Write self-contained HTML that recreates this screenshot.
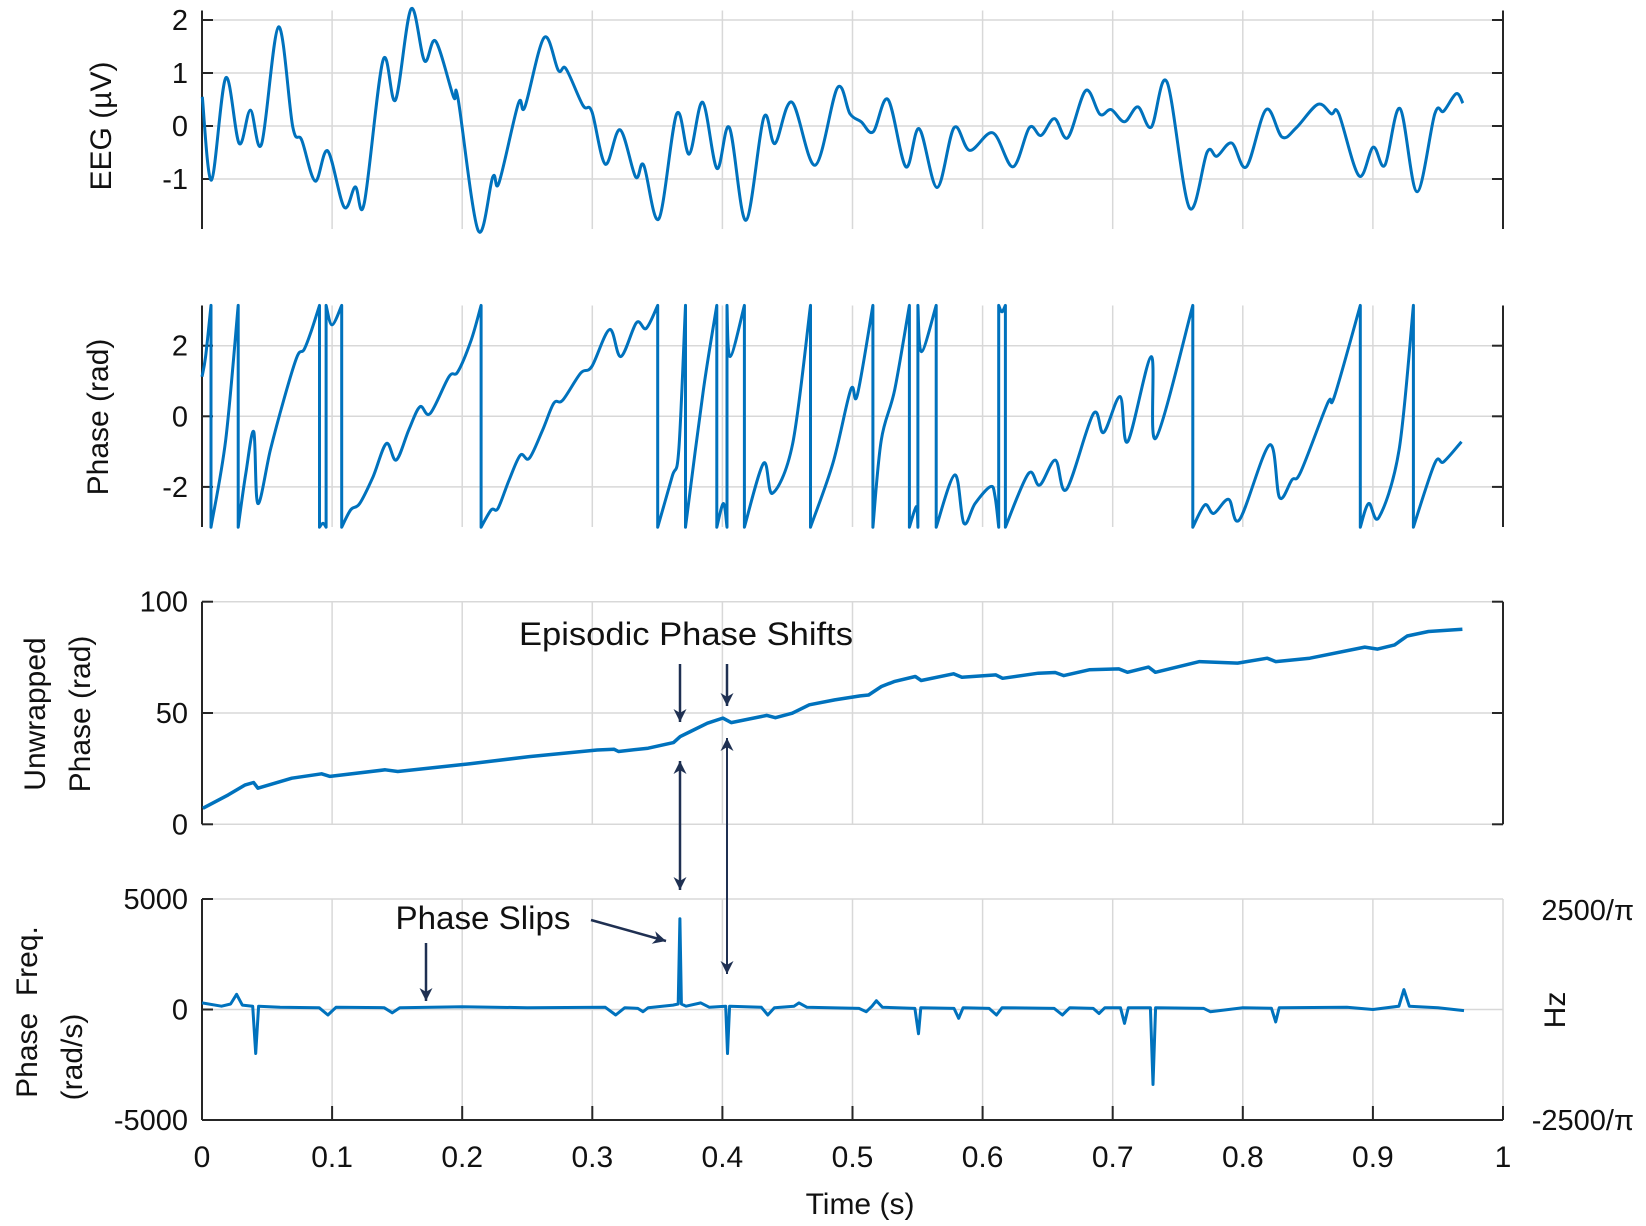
<!DOCTYPE html>
<html><head><meta charset="utf-8"><style>
html,body{margin:0;padding:0;background:#fff;}
svg{display:block;}
text{font-family:"Liberation Sans",sans-serif;fill:#111;}
</style></head><body>
<svg id="chart" width="1646" height="1226" viewBox="0 0 1646 1226" xmlns="http://www.w3.org/2000/svg">
<g id="layer"></g>
</svg>
<script>
// ---- data ----
const xTicks = [0,0.1,0.2,0.3,0.4,0.5,0.6,0.7,0.8,0.9,1];
const xTickLabels = ["0","0.1","0.2","0.3","0.4","0.5","0.6","0.7","0.8","0.9","1"];
const eegTicks = [2,1,0,-1];
const phaseTicks = [2,0,-2];
const unwrapTicks = [100,50,0];
const freqTicks = [5000,0,-5000];
const eegT = [0.0002,0.0073,0.0183,0.0286,0.0372,0.0458,0.0588,0.0698,0.0767,0.0870,0.0966,0.1092,0.1178,0.1247,0.1391,0.1487,0.1607,0.1710,0.1796,0.1933,0.1968,0.2122,0.2235,0.2283,0.2431,0.2482,0.2630,0.2739,0.2798,0.2928,0.2997,0.3100,0.3213,0.3333,0.3395,0.3512,0.3649,0.3745,0.3848,0.3958,0.4054,0.4181,0.4318,0.4404,0.4534,0.4713,0.4884,0.4981,0.5067,0.5159,0.5273,0.5410,0.5513,0.5650,0.5781,0.5901,0.6079,0.6233,0.6360,0.6449,0.6552,0.6655,0.6793,0.6902,0.6988,0.7091,0.7194,0.7297,0.7417,0.7589,0.7726,0.7801,0.7915,0.8028,0.8179,0.8302,0.8412,0.8577,0.8680,0.8738,0.8893,0.9002,0.9092,0.9208,0.9338,0.9476,0.9544,0.9640,0.9692];
const eegV = [0.55,-1.02,0.91,-0.33,0.30,-0.34,1.87,-0.02,-0.27,-1.04,-0.47,-1.53,-1.15,-1.46,1.24,0.49,2.21,1.23,1.60,0.55,0.52,-1.97,-0.96,-1.07,0.42,0.36,1.67,1.05,1.08,0.39,0.27,-0.72,-0.07,-0.96,-0.74,-1.75,0.23,-0.53,0.45,-0.80,-0.03,-1.78,0.16,-0.33,0.45,-0.74,0.72,0.23,0.08,-0.11,0.50,-0.77,-0.05,-1.16,-0.03,-0.46,-0.13,-0.77,-0.03,-0.18,0.14,-0.22,0.67,0.22,0.31,0.08,0.36,-0.02,0.83,-1.54,-0.49,-0.57,-0.32,-0.77,0.31,-0.21,-0.03,0.41,0.23,0.23,-0.94,-0.40,-0.74,0.33,-1.24,0.23,0.28,0.61,0.43];
const P = Math.PI;
const phaseT = [0,0.0028,0.0069,0.0069,0.0182,0.0278,0.0278,0.0337,0.0398,0.0429,0.0526,0.0628,0.0731,0.0783,0.0834,0.0903,0.0903,0.0930,0.0954,0.0954,0.0999,0.1074,0.1074,0.1143,0.1212,0.1315,0.1417,0.1493,0.1589,0.1675,0.1754,0.1898,0.1966,0.2069,0.2145,0.2145,0.2224,0.2275,0.2361,0.2447,0.2516,0.2618,0.2704,0.2773,0.2910,0.2996,0.3133,0.3219,0.3339,0.3414,0.3503,0.3503,0.3613,0.3665,0.3716,0.3716,0.3854,0.3957,0.3957,0.4008,0.4035,0.4035,0.4059,0.4169,0.4169,0.4317,0.4385,0.4540,0.4677,0.4677,0.4849,0.4986,0.5037,0.5157,0.5157,0.5221,0.5324,0.5437,0.5437,0.5479,0.5496,0.5503,0.5503,0.5530,0.5643,0.5643,0.5787,0.5856,0.5942,0.6062,0.6096,0.6124,0.6124,0.6148,0.6175,0.6175,0.6353,0.6439,0.6559,0.6645,0.6851,0.6930,0.7057,0.7115,0.7297,0.7331,0.7616,0.7616,0.7709,0.7777,0.7891,0.7976,0.8206,0.8282,0.8378,0.8446,0.8652,0.8704,0.8903,0.8903,0.8968,0.9047,0.9201,0.9311,0.9311,0.9476,0.9544,0.9681];
const phaseV = [1.12,1.69,P,-P,-0.67,P,-P,-1.62,-0.44,-2.47,-0.95,0.46,1.69,1.88,2.35,P,-P,-3.03,-P,P,2.59,P,-P,-2.65,-2.47,-1.71,-0.77,-1.24,-0.39,0.27,0.08,1.12,1.26,2.16,P,-P,-2.65,-2.61,-1.80,-1.10,-1.19,-0.39,0.37,0.46,1.22,1.41,2.46,1.69,2.65,2.49,P,-P,-1.71,-0.95,P,-P,0.75,P,-P,-2.47,-P,P,1.69,P,-P,-1.33,-2.18,-0.77,P,-P,-1.33,0.75,0.60,P,-P,-0.67,0.75,P,-P,-2.65,-2.6,-P,P,1.83,P,-P,-1.66,-3.03,-2.47,-1.99,-2.28,-P,P,2.96,P,-P,-1.62,-1.95,-1.24,-2.07,0.07,-0.46,0.56,-0.72,1.69,-0.62,P,-P,-2.51,-2.75,-2.35,-2.92,-0.81,-2.30,-1.80,-1.57,0.37,0.56,P,-P,-2.47,-2.86,-0.95,P,-P,-1.33,-1.29,-0.72];
const unwrapT = [0.0006,0.0201,0.0332,0.0397,0.0430,0.0690,0.0919,0.0984,0.1408,0.1505,0.2060,0.2516,0.3038,0.3168,0.3201,0.3429,0.3624,0.3676,0.3755,0.3885,0.4003,0.4068,0.4342,0.4407,0.4537,0.4668,0.4863,0.5059,0.5124,0.5222,0.5320,0.5483,0.5528,0.5776,0.5841,0.6102,0.6154,0.6428,0.6558,0.6624,0.6819,0.7047,0.7113,0.7276,0.7328,0.7667,0.7960,0.8188,0.8254,0.8515,0.8938,0.9036,0.9167,0.9264,0.9427,0.9688];
const unwrapV = [7.2,13.2,17.7,18.8,16.2,20.7,22.7,21.5,24.5,23.7,27.2,30.4,33.4,33.7,32.7,34.2,36.7,39.4,41.7,45.4,47.7,45.7,48.9,47.9,49.9,53.7,55.9,57.7,58.1,61.9,64.1,66.4,64.6,67.6,66.1,67.1,65.6,67.9,68.2,66.8,69.4,69.8,68.3,70.6,68.3,73.1,72.4,74.6,73.1,74.6,79.6,78.7,80.6,84.6,86.6,87.6];
const freqT = [0,0.015,0.022,0.0266,0.031,0.039,0.0413,0.0435,0.06,0.09,0.0968,0.103,0.14,0.1463,0.152,0.2,0.25,0.31,0.318,0.325,0.335,0.339,0.343,0.362,0.366,0.3673,0.3685,0.372,0.3834,0.39,0.4025,0.4039,0.4055,0.43,0.4349,0.44,0.455,0.4589,0.465,0.505,0.5106,0.515,0.5184,0.523,0.548,0.5507,0.5525,0.578,0.5816,0.585,0.605,0.6107,0.615,0.655,0.6613,0.667,0.685,0.6895,0.694,0.706,0.7091,0.712,0.729,0.731,0.733,0.77,0.775,0.8,0.822,0.8253,0.828,0.88,0.9,0.92,0.9238,0.928,0.95,0.97];
const freqV = [300,150,250,690,200,150,-1990,150,100,80,-250,100,80,-150,80,120,80,100,-250,80,50,-100,80,200,250,4110,250,150,300,100,150,-1990,150,100,-250,80,150,300,100,50,-100,150,400,100,50,-1100,80,50,-400,80,50,-250,80,50,-250,80,50,-180,80,80,-630,80,80,-3390,80,50,-100,80,60,-560,80,100,0,150,900,150,80,-50];

// ---- geometry ----
const X0=202, X1=1503;
const xs = t => X0 + t*(X1-X0);
const panels = {
  eeg:{top:10.5,bottom:229,y0v:0,y0:126,ppu:53},
  phase:{top:305.5,bottom:527,y0v:0,y0:416.3,ppu:35.3},
  unwrap:{top:601.7,bottom:824.3,y0v:0,y0:824.3,ppu:2.226},
  freq:{top:899,bottom:1120,y0v:0,y0:1009.5,ppu:0.0221}
};
const ys = (p,v) => p.y0 - (v-p.y0v)*p.ppu;
const NS="http://www.w3.org/2000/svg";
const layer=document.getElementById('layer');
function mk(tag,attrs,parent){const e=document.createElementNS(NS,tag);for(const k in attrs)e.setAttribute(k,attrs[k]);(parent||layer).appendChild(e);return e;}

function drawPanel(key,ticks,opts){
  const p=panels[key];
  const g=mk('g',{});
  
  
  xTicks.forEach(t=>{
    const l=mk('line',{x1:xs(t),x2:xs(t),y1:p.top,y2:p.bottom,stroke:'#d8d8d8','stroke-width':1.5},g);
    
    
  });
  ticks.forEach(v=>{
    const y=ys(p,v);
    const l=mk('line',{x1:X0,x2:X1,y1:y,y2:y,stroke:'#d8d8d8','stroke-width':1.5},g);
    
    
    const tk=mk('line',{x1:X0,x2:X0+11,y1:y,y2:y,stroke:'#262626','stroke-width':2},g);
    
    
    if(opts.right){
      const tr=mk('line',{x1:X1-11,x2:X1,y1:y,y2:y,stroke:'#262626','stroke-width':2},g);
      
      
    }
    const tx=mk('text',{x:X0-14,y:y+10,'font-size':29,'text-anchor':'end'},g);
    tx.textContent=String(v);
    
    
  });
  const ax=mk('line',{x1:X0,x2:X0,y1:p.top,y2:p.bottom,stroke:'#262626','stroke-width':2},g);
  
  
  if(opts.right){
    const ar=mk('line',{x1:X1,x2:X1,y1:p.top,y2:p.bottom,stroke:'#262626','stroke-width':2},g);
    
    
  }
  return g;
}
function smoothPts(pts,start){
  let d=(start?'M':'L')+pts[0][0].toFixed(1)+','+pts[0][1].toFixed(1);
  for(let i=0;i<pts.length-1;i++){
    const p0=pts[Math.max(0,i-1)],p1=pts[i],p2=pts[i+1],p3=pts[Math.min(pts.length-1,i+2)];
    const c1=[p1[0]+(p2[0]-p0[0])/6,p1[1]+(p2[1]-p0[1])/6];
    const c2=[p2[0]-(p3[0]-p1[0])/6,p2[1]-(p3[1]-p1[1])/6];
    d+=' C'+c1[0].toFixed(1)+','+c1[1].toFixed(1)+' '+c2[0].toFixed(1)+','+c2[1].toFixed(1)+' '+p2[0].toFixed(1)+','+p2[1].toFixed(1);
  }
  return d;
}
function smoothPath(T,V,p){return smoothPts(T.map((t,i)=>[xs(t),ys(p,V[i])]),true);}
// smooth within segments separated by wrap jumps (equal times)
function segPath(T,V,p){
  let segs=[[]];
  T.forEach((t,i)=>{
    if(i>0 && t===T[i-1]) segs.push([]);
    segs[segs.length-1].push([xs(t),ys(p,V[i])]);
  });
  return segs.map((s,k)=>smoothPts(s,k===0)).join(' ');
}
function linePath(T,V,p){return T.map((t,i)=>(i?'L':'M')+xs(t).toFixed(1)+','+ys(p,V[i]).toFixed(1)).join(' ');}

drawPanel('eeg',eegTicks,{right:true});
drawPanel('phase',phaseTicks,{right:true});
drawPanel('unwrap',unwrapTicks,{right:true});
drawPanel('freq',freqTicks,{right:false});
const pf=panels.freq;
const bx=mk('line',{x1:X0,x2:X1,y1:pf.bottom,y2:pf.bottom,stroke:'#262626','stroke-width':2});


xTicks.forEach((t,i)=>{
  const tk=mk('line',{x1:xs(t),x2:xs(t),y1:pf.bottom-14,y2:pf.bottom,stroke:'#262626','stroke-width':2});
  
  
  const tx=mk('text',{x:xs(t),y:1167,'font-size':30,'text-anchor':'middle'});
  tx.textContent=xTickLabels[i];
  
  
});

const s1=mk('path',{d:smoothPath(eegT,eegV,panels.eeg),fill:'none',stroke:'#0072BD','stroke-width':3,'stroke-linejoin':'round'});


const s2=mk('path',{d:segPath(phaseT,phaseV,panels.phase),fill:'none',stroke:'#0072BD','stroke-width':3,'stroke-linejoin':'round'});


const s3=mk('path',{d:linePath(unwrapT,unwrapV,panels.unwrap),fill:'none',stroke:'#0072BD','stroke-width':3.5,'stroke-linejoin':'round'});


const s4=mk('path',{d:linePath(freqT,freqV,panels.freq),fill:'none',stroke:'#0072BD','stroke-width':3,'stroke-linejoin':'round'});


</script>
<div style="position:absolute;left:0;top:0;width:1646px;height:1226px;pointer-events:none;">
<svg width="1646" height="1226" viewBox="0 0 1646 1226" xmlns="http://www.w3.org/2000/svg">
<defs><marker id="hd" viewBox="0 0 10 10" markerWidth="13" markerHeight="18" refX="10" refY="5" orient="auto-start-reverse" markerUnits="userSpaceOnUse"><path d="M0,0 L10,5 L0,10 L3,5 z" fill="#1f3052"/></marker></defs>
<g font-family="Liberation Sans, sans-serif" fill="#111">
<text transform="translate(111,126) rotate(-90)" text-anchor="middle" font-size="30">EEG (µV)</text>
<text transform="translate(108,417) rotate(-90)" text-anchor="middle" font-size="30">Phase (rad)</text>
<text transform="translate(45,714) rotate(-90)" text-anchor="middle" font-size="30">Unwrapped</text>
<text transform="translate(90,714) rotate(-90)" text-anchor="middle" font-size="30">Phase (rad)</text>
<text transform="translate(37,1012) rotate(-90)" text-anchor="middle" font-size="30" xml:space="preserve">Phase  Freq.</text>
<text transform="translate(82,1057) rotate(-90)" text-anchor="middle" font-size="30">(rad/s)</text>
<text transform="translate(1565,1010) rotate(-90)" text-anchor="middle" font-size="30">Hz</text>
<text x="1634" y="920" text-anchor="end" font-size="29">2500/π</text>
<text x="1634" y="1130" text-anchor="end" font-size="29">-2500/π</text>
<text x="860" y="1214" text-anchor="middle" font-size="30">Time (s)</text>
<text x="686" y="645" text-anchor="middle" font-size="32" textLength="334" lengthAdjust="spacingAndGlyphs">Episodic Phase Shifts</text>
<text x="483" y="929" text-anchor="middle" font-size="32" textLength="175" lengthAdjust="spacingAndGlyphs">Phase Slips</text>
</g>
<g stroke="#1f3052" stroke-width="2.5" fill="none">
<line x1="680" y1="664" x2="680" y2="722" marker-end="url(#hd)"/>
<line x1="727" y1="664" x2="727" y2="706" marker-end="url(#hd)"/>
<line x1="680" y1="761" x2="680" y2="890" marker-start="url(#hd)" marker-end="url(#hd)"/>
<line x1="727" y1="738" x2="727" y2="974" marker-start="url(#hd)" marker-end="url(#hd)" stroke-width="2"/>
<line x1="426" y1="943" x2="426" y2="1001" marker-end="url(#hd)"/>
<line x1="591" y1="920" x2="666" y2="941" marker-end="url(#hd)"/>
</g>
</svg></div>
</body></html>
